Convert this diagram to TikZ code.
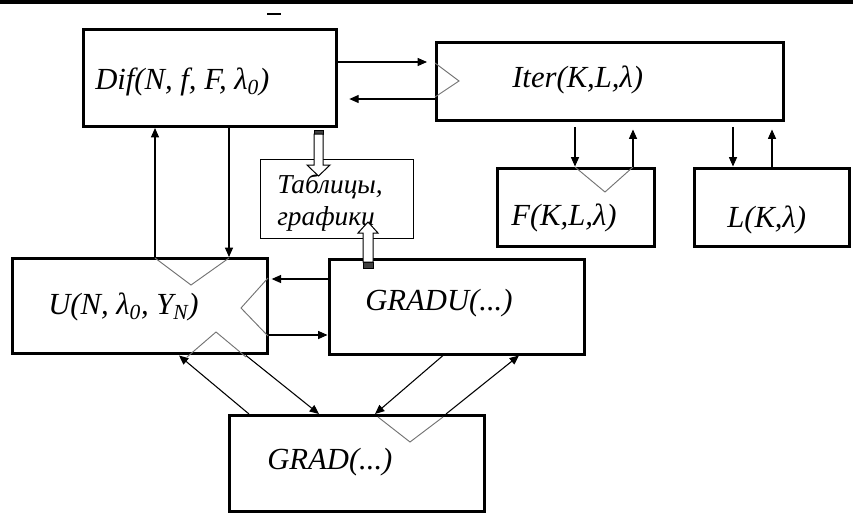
\documentclass[tikz,border=0pt]{standalone}
\usepackage{fontspec}
\setmainfont{Liberation Serif}
\usetikzlibrary{arrows.meta}
\usetikzlibrary{positioning}
\tikzset{box/.style = {draw, line width=2.25pt, inner sep=0pt},
         thinbox/.style = {draw, line width=0.75pt, inner sep=0pt},
         lbl/.style = {inner sep=0pt, anchor=west,
                       font=\itshape\fontsize{23}{24}\selectfont},
         small/.style = {font=\itshape\fontsize{20.5}{24}\selectfont},
         arr/.style = {line width=0.8pt, -{Triangle[length=7pt,width=6pt]}},
         ghost/.style = {draw=black!55, line width=0.7pt},
         hollow/.style = {draw, line width=0.75pt, fill=white}}

\begin{document}
\begin{tikzpicture}[x=0.75pt, y=-0.75pt]
  \useasboundingbox (0,0) rectangle (853,515);
  \fill (0,0) rectangle (853,3.5);
  \fill (267,12.5) rectangle (281,14.5);

  % blocks
  \node[box, minimum width=189.75pt, minimum height=72.4pt] (dif) at (210,78.25) {};
  \node[box, minimum width=260.25pt, minimum height=58.5pt] (iter) at (610,81) {};
  \node[box, minimum width=117.4pt, minimum height=58.5pt] (fk) at (576.25,207) {};
  \node[box, minimum width=116.25pt, minimum height=58.5pt] (lk) at (771.5,207) {};
  \node[thinbox, minimum width=114.75pt, minimum height=59.25pt] (tab) at (336.5,198.5) {};
  \node[box, minimum width=191.25pt, minimum height=71.6pt] (u) at (140,306.25) {};
  \node[box, minimum width=191.25pt, minimum height=71.25pt] (gradu) at (456.5,306.5) {};
  \node[box, minimum width=191.4pt, minimum height=72pt] (grad) at (357.1,463.5) {};

  % labels
  \node[lbl] (diftxt) at (95,82) {Dif(N, f, F, λ\textsubscript{0})};
  \node[lbl] (itertxt) at (512,80) {Iter(K,L,λ)};
  \node[lbl] (ftxt) at (511,218) {F(K,L,λ)};
  \node[lbl] (ltxt) at (727,220) {L(K,λ)};
  \node[lbl, small, anchor=base west] (tabtxt) at (277,193) {Таблицы,};
  \node[lbl, small, anchor=base west] (tabtxtb) at (277,225) {графики};
  \node[lbl] (utxt) at (48,307) {U(N, λ\textsubscript{0}, Y\textsubscript{N})};
  \node[lbl] (gradutxt) at (365,303) {GRADU(...)};
  \node[lbl] (gradtxt) at (267,462) {GRAD(...)};

  % stray strokes
  \draw[ghost] (435,63) -- (459,81) -- (435,97);
  \draw[ghost] (575,167) -- (605,192) -- (633,167);
  \draw[ghost] (155,258) -- (191,285) -- (229,258);
  \draw[ghost] (268,278) -- (241,308) -- (268,336);
  \draw[ghost] (187,357) -- (216,332) -- (246,357);
  \draw[ghost] (378,417) -- (410,442) -- (443,417);

  % connectors
  \draw[arr, shorten >=6pt] (dif.east |- 0,62) -- (iter.west |- 0,62);
  \draw[arr, shorten >=8.5pt] (iter.west |- 0,99) -- (dif.east |- 0,99);
  \draw[arr, shorten <=4pt] (575,0 |- iter.south) -- (575,0 |- fk.north);
  \draw[arr, shorten >=6pt] (633,0 |- fk.north) -- (633,0 |- iter.south);
  \draw[arr, shorten <=4pt] (733,0 |- iter.south) -- (733,0 |- lk.north);
  \draw[arr, shorten >=6pt] (772,0 |- lk.north) -- (772,0 |- iter.south);
  \draw[arr] (229,0 |- dif.south) -- (229,0 |- u.north);
  \draw[arr] (155,0 |- u.north) -- (155,0 |- dif.south);
  \draw[arr, shorten >=2pt] (gradu.west |- 0,279) -- (u.east |- 0,279);
  \draw[arr] (u.east |- 0,335) -- (gradu.west |- 0,335);
  \draw[arr] (249,0 |- grad.north) -- (179,0 |- u.south);
  \draw[arr] (246,0 |- u.south) -- (319,0 |- grad.north);
  \draw[arr] (443,0 |- gradu.south) -- (375,0 |- grad.north);
  \draw[arr] (446,0 |- grad.north) -- (519,0 |- gradu.south);

  % hollow arrows to the tables
  \coordinate (tin) at (318.5,0 |- dif.south);
  \draw[hollow, fill=black!75] (tin) ++(-4.5,2) rectangle ++(9,4);
  \draw[hollow] (tin) ++(-4.5,6) -- ++(0,31) -- ++(-7,0) -- ++(11.5,11)
    -- ++(11.5,-11) -- ++(-7,0) -- ++(0,-31) -- cycle;
  \coordinate (tup) at (368,0 |- gradu.north);
  \draw[hollow, fill=black!75] (tup) ++(-5,4.5) rectangle ++(10,6);
  \draw[hollow] (tup) ++(-5,4.5) -- ++(0,-29) -- ++(-5,0) -- ++(10,-11)
    -- ++(10,11) -- ++(-5,0) -- ++(0,29) -- cycle;
\end{tikzpicture}
\end{document}
